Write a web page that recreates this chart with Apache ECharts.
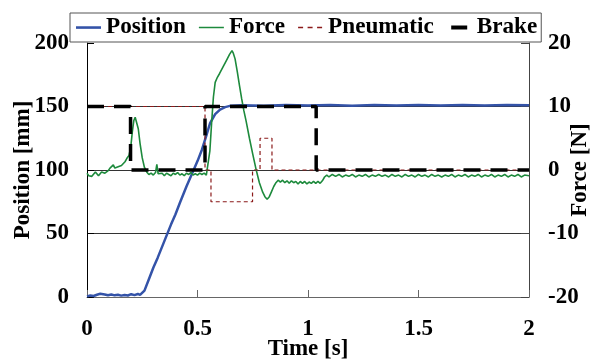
<!DOCTYPE html>
<html><head><meta charset="utf-8">
<script src="https://cdn.jsdelivr.net/npm/echarts@6/dist/echarts.min.js"></script>
<style>html,body{margin:0;padding:0;background:#fff}#c{width:592px;height:362px}</style>
</head><body><div id="c"></div>
<script>
const seriesNames = ['Position', 'Force', 'Pneumatic', 'Brake'];
const xTicks = { min: 0, max: 2, interval: 0.5 };
const positionTicks = { min: 0, max: 200, interval: 50 };
const forceTicks = { min: -20, max: 20, interval: 10 };

// Position [mm] vs time [s]
const positionData = [
  [0,0.5],[0.015,1.2],[0.03,0.8],[0.045,1.8],[0.06,2.6],[0.068,3.4],[0.08,2.0],[0.095,1.4],[0.11,1.9],[0.125,1.3],
  [0.14,1.7],[0.155,1.1],[0.17,1.6],[0.185,1.2],[0.2,2.2],[0.215,1.5],[0.23,2.4],[0.24,1.6],[0.248,2.0],
  [0.26,5],[0.28,14],[0.30,23],[0.32,31],[0.35,44],[0.38,57],[0.40,65],[0.42,74],[0.45,87],[0.48,99],
  [0.50,107],[0.52,116],[0.54,127],[0.557,137],[0.58,144],[0.602,147.5],[0.625,149.5],[0.647,150.5],
  [0.7,151],[0.8,150.6],[0.9,151.2],[1.0,150.7],[1.1,151.1],[1.2,150.6],[1.3,151.2],[1.4,150.8],
  [1.5,151.2],[1.6,150.7],[1.7,151.1],[1.8,150.8],[1.9,151.2],[2.0,150.9]
];

// Force [N] vs time [s]
const forceData = [
  [0,-0.5],[0.008,-0.9],[0.015,-0.6],[0.022,-1.0],[0.03,-0.7],[0.038,-0.3],[0.045,-0.5],[0.052,-0.9],[0.059,-0.7],
  [0.066,-0.3],[0.074,-0.1],[0.081,-0.5],[0.089,-0.7],[0.096,-0.1],[0.104,0.3],[0.111,0.5],[0.119,0.8],[0.126,0.3],
  [0.134,0.0],[0.141,0.5],[0.149,0.3],[0.156,0.7],[0.164,1.0],[0.172,1.3],[0.18,1.8],[0.19,2.3],[0.198,3.6],
  [0.205,6.0],[0.212,7.8],[0.218,8.3],[0.224,8.1],[0.232,6.5],[0.24,4.2],[0.25,1.9],[0.26,0.4],[0.27,-0.3],
  [0.28,-0.7],[0.29,-0.5],[0.30,-0.8],[0.31,-0.4],[0.316,0.9],[0.322,-0.6],[0.33,-0.8],[0.34,-0.5],[0.35,-0.9],
  [0.36,-0.5],[0.37,-0.7],[0.38,-0.9],[0.39,-0.5],[0.40,-0.7],[0.41,-0.4],[0.42,-0.8],[0.43,-0.6],[0.44,-0.9],
  [0.45,-0.5],[0.46,-0.7],[0.47,-0.4],[0.48,-0.8],[0.49,-0.6],[0.50,-0.8],[0.51,-0.5],[0.52,-0.7],[0.53,-0.5],
  [0.54,-0.8],[0.548,-0.5],
  [0.556,3.0],[0.564,7.5],[0.572,11.5],[0.58,13.8],[0.59,14.6],[0.60,15.2],[0.615,16.2],[0.63,17.2],[0.645,18.2],
  [0.656,18.8],[0.662,18.4],[0.67,17.5],[0.68,15.5],[0.69,13.3],[0.70,11.2],[0.71,9.3],[0.72,7.7],[0.735,5.0],
  [0.75,2.5],[0.765,0.1],[0.78,-2.0],[0.795,-3.5],[0.805,-4.2],[0.815,-4.6],[0.825,-4.2],[0.835,-3.4],[0.845,-2.6],
  [0.855,-2.0],[0.865,-1.6],[0.875,-1.9],[0.885,-1.6],[0.895,-2.0],[0.905,-1.7],[0.915,-2.1],[0.925,-1.7],[0.935,-2.0],
  [0.945,-1.8],[0.955,-2.2],[0.965,-1.8],[0.975,-2.1],[0.985,-1.8],[0.995,-2.2],[1.005,-1.9],[1.015,-2.1],[1.025,-1.8],
  [1.035,-2.1],[1.045,-1.8],[1.055,-2.1],[1.065,-1.7],[1.075,-1.1],[1.085,-0.8],[1.095,-1.1],[1.11,-0.7],[1.125,-1.0],
  [1.14,-0.7],[1.155,-1.1],[1.17,-0.8],[1.185,-1.0],[1.2,-0.7],[1.215,-1.1],[1.23,-0.8],[1.245,-1.0],[1.26,-0.7],
  [1.275,-1.1],[1.29,-0.8],[1.305,-1.0],[1.32,-0.7],[1.335,-1.0],[1.35,-0.8],[1.365,-1.1],[1.38,-0.7],[1.395,-1.0],
  [1.41,-0.8],[1.425,-1.1],[1.44,-0.7],[1.455,-1.0],[1.47,-0.8],[1.485,-1.1],[1.5,-0.7],[1.515,-1.0],[1.53,-0.8],
  [1.545,-1.1],[1.56,-0.7],[1.575,-1.0],[1.59,-0.8],[1.605,-1.1],[1.62,-0.8],[1.635,-1.0],[1.65,-0.7],[1.665,-1.1],
  [1.68,-0.8],[1.695,-1.0],[1.71,-0.7],[1.725,-1.1],[1.74,-0.8],[1.755,-1.0],[1.77,-0.7],[1.785,-1.1],[1.8,-0.8],
  [1.815,-1.0],[1.83,-0.7],[1.845,-1.1],[1.86,-0.8],[1.875,-1.0],[1.89,-0.7],[1.905,-1.1],[1.92,-0.8],[1.935,-1.0],
  [1.95,-0.7],[1.965,-1.1],[1.98,-0.8],[2.0,-0.9]
];

// Pneumatic command (on force axis scale)
const pneumaticData = [
  [0,10],[0.534,10],[0.534,0],[0.561,0],[0.561,-5],[0.749,-5],[0.749,0],[0.783,0],[0.783,5],[0.837,5],[0.837,0],[2,0]
];
// Brake command (on force axis scale)
const brakeData = [
  [0,10],[0.197,10],[0.197,0],[0.534,0],[0.534,10],[1.037,10],[1.037,0],[2,0]
];

const FONT = 'Liberation Serif';
// legend icon shapes (25 x 14 box, corners pinned by degenerate sub-paths)
const BOX = 'M0,0L0,0M25,14L25,14';
const legendIcons = {
  Position: 'path://' + BOX + 'M0,5.75h25v2.6h-25z',
  Force: 'path://' + BOX + 'M0,6.25h25v1.5h-25z',
  Pneumatic: 'path://' + BOX + 'M0,6.3h5v1.4h-5zM9.5,6.3h5v1.4h-5zM19,6.3h5v1.4h-5z',
  Brake: 'path://' + BOX + 'M4.5,5h16v4h-16z'
};

const chart = echarts.init(document.getElementById('c'), null, { renderer: 'canvas' });
chart.setOption({
  animation: false,
  backgroundColor: '#fff',
  grid: { left: 87, right: 63, top: 43, bottom: 65, outerBoundsMode: 'none', containLabel: false },
  legend: {
    data: seriesNames.map(n => ({ name: n, icon: legendIcons[n] })),
    left: 70, top: 13,
    backgroundColor: '#fff',
    borderColor: '#555', borderWidth: 1,
    padding: [3, 4, 3, 6],
    itemGap: 13, itemWidth: 25, itemHeight: 14,
    itemStyle: { borderWidth: 0 },
    textStyle: { fontFamily: FONT, fontWeight: 'bold', fontSize: 23.2, color: '#000' }
  },
  xAxis: {
    type: 'value', min: xTicks.min, max: xTicks.max, interval: xTicks.interval,
    name: 'Time [s]', nameLocation: 'middle', nameGap: 41, nameMoveOverlap: false,
    nameTextStyle: { fontFamily: FONT, fontWeight: 'bold', fontSize: 23, color: '#000' },
    axisLine: { lineStyle: { color: '#666', width: 1 } },
    axisTick: { inside: true, length: 7, lineStyle: { color: '#666' } },
    axisLabel: { fontFamily: FONT, fontWeight: 'bold', fontSize: 23, color: '#000', margin: 21 },
    splitLine: { show: false }
  },
  yAxis: [{
    type: 'value', min: positionTicks.min, max: positionTicks.max, interval: positionTicks.interval,
    name: 'Position [mm]', nameLocation: 'middle', nameGap: 52, nameMoveOverlap: false,
    nameTextStyle: { fontFamily: FONT, fontWeight: 'bold', fontSize: 23, color: '#000' },
    axisLine: { show: true, lineStyle: { color: '#000', width: 1 } },
    axisTick: { show: true, inside: true, length: 7, lineStyle: { color: '#000' } },
    axisLabel: { fontFamily: FONT, fontWeight: 'bold', fontSize: 23, color: '#000', margin: 18 },
    splitLine: { show: true, showMinLine: false, showMaxLine: false, lineStyle: { color: '#333', width: 1 } }
  }, {
    type: 'value', min: forceTicks.min, max: forceTicks.max, interval: forceTicks.interval,
    name: 'Force [N]', nameLocation: 'middle', nameGap: 40, nameRotate: 90, nameMoveOverlap: false,
    nameTextStyle: { fontFamily: FONT, fontWeight: 'bold', fontSize: 23, color: '#000' },
    axisLine: { show: true, lineStyle: { color: '#444', width: 1 } },
    axisTick: { show: true, inside: true, length: 8, lineStyle: { color: '#444' } },
    axisLabel: { fontFamily: FONT, fontWeight: 'bold', fontSize: 23, color: '#000', margin: 19 },
    splitLine: { show: false }
  }],
  series: [
    { name: 'Position', type: 'line', yAxisIndex: 0, data: positionData, symbol: 'none',
      lineStyle: { color: '#3453a8', width: 2.5 }, itemStyle: { color: '#3453a8' }, z: 3 },
    { name: 'Force', type: 'line', yAxisIndex: 1, data: forceData, symbol: 'none',
      lineStyle: { color: '#1d8a3c', width: 1.6 }, itemStyle: { color: '#1d8a3c' }, z: 4 },
    { name: 'Pneumatic', type: 'line', yAxisIndex: 1, data: pneumaticData, symbol: 'none',
      lineStyle: { color: '#8b1a1a', width: 1.2, type: [4, 3] }, itemStyle: { color: '#8b1a1a' }, z: 5 },
    { name: 'Brake', type: 'line', yAxisIndex: 1, data: brakeData, symbol: 'none',
      lineStyle: { color: '#000', width: 3.5, type: [17, 10] }, itemStyle: { color: '#000' }, z: 6 }
  ]
});
</script>
</body></html>
